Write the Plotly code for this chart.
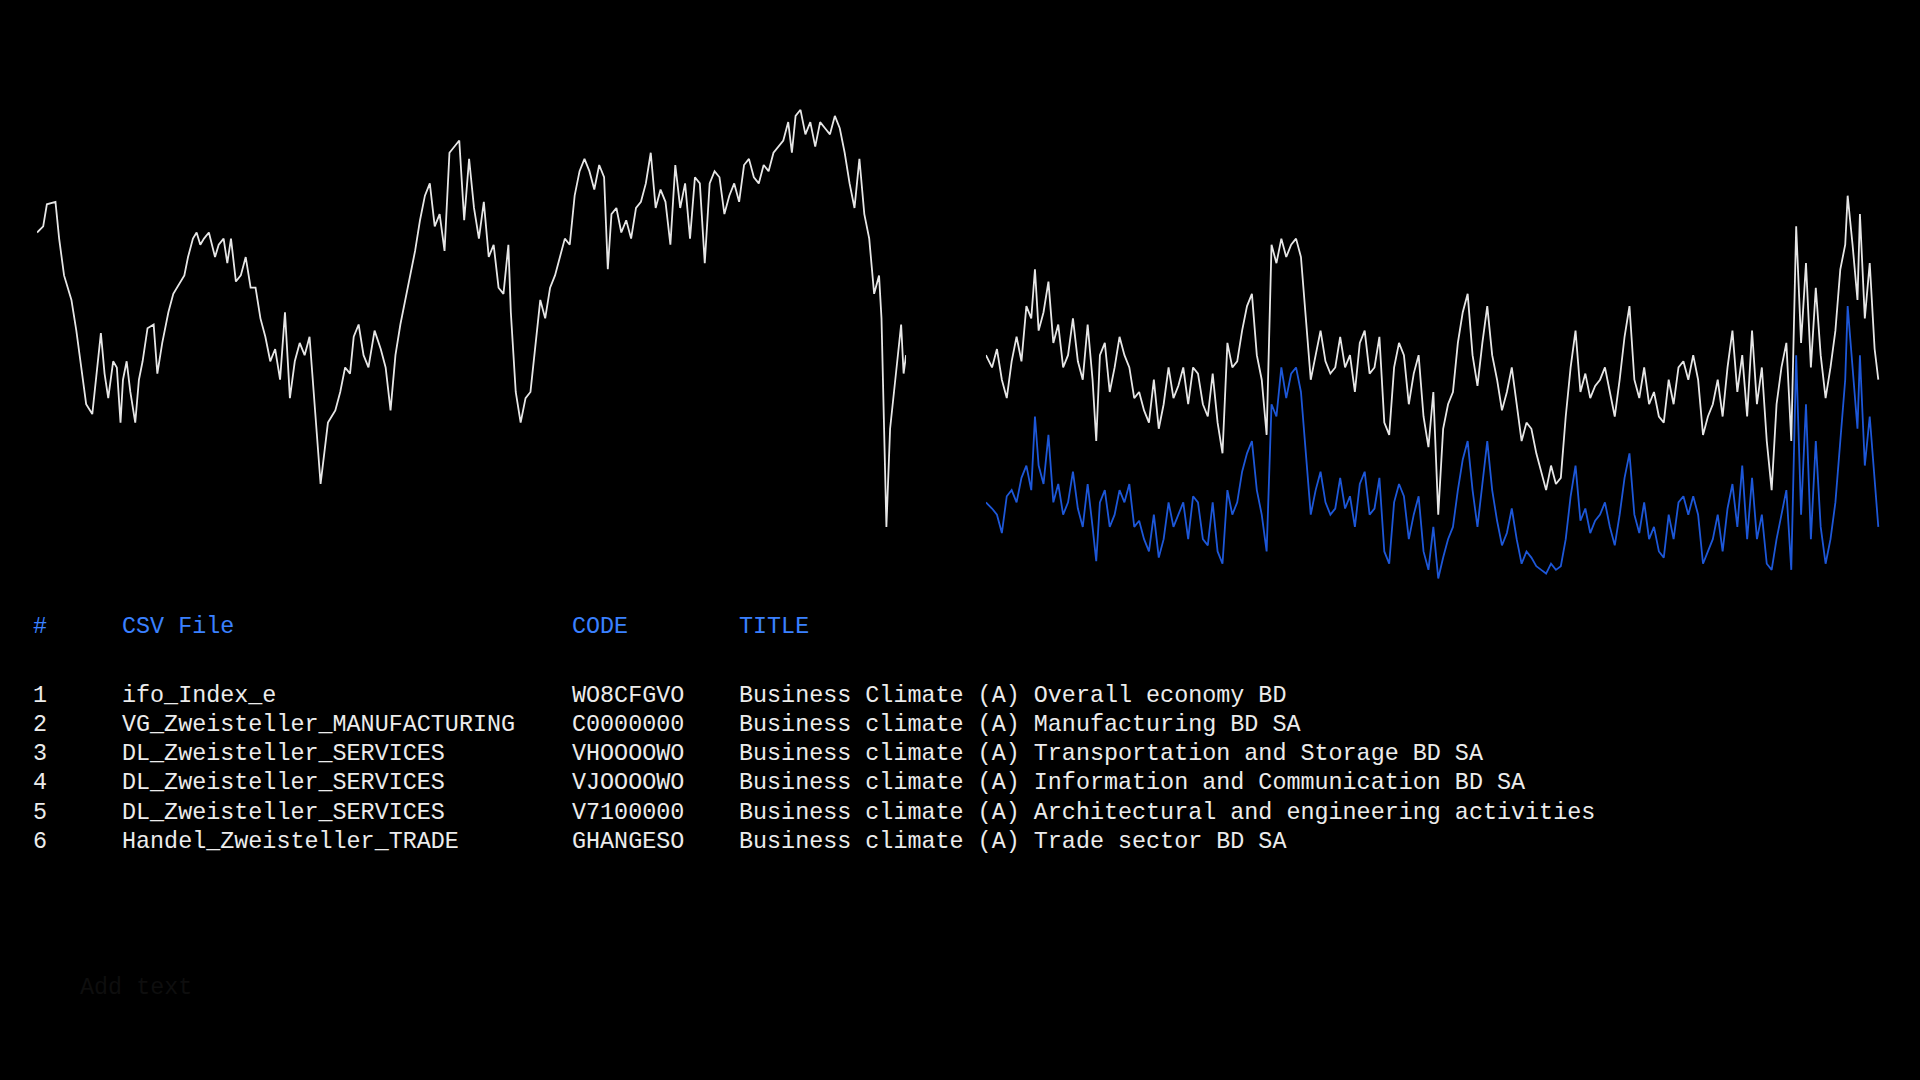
import plotly.graph_objects as go

# Left series (ifo index)
left_x = [30,35,38,45,48,52,58,62,66,70,75,78,82,85,88,92,95,98,100,103,106,110,113,116,120,125,128,132,137,141,144,150,153,157,160,163,166,170,175,178,182,185,188,192,196,200,204,208,212,216,220,224,228,232,236,240,244,248,252,255,258,261,264,267,270,273,277,281,285,288,292,296,300,305,310,314,318,322,326,330,334,338,342,346,350,354,358,362,366,370,374,378,382,386,390,394,398,402,406,410,414,416,420,424,428,432,436,440,444,448,452,456,460,464,468,472,476,480,484,488,492,495,498,502,506,510,514,518,522,526,530,534,538,542,546,550,554,558,562,566,570,574,578,582,586,590,594,598,602,606,610,614,618,622,626,630,634,638,642,645,648,652,656,660,664,668,672,676,680,684,688,692,696,700,704,708,712,716,718,720,722,725,728,731,734,736,738]
left_v = [190,185,167,165,195,225,245,270,300,330,338,310,272,305,325,295,300,345,310,295,320,345,310,295,268,265,305,280,255,240,235,225,210,195,190,200,195,190,210,200,195,215,195,230,225,210,235,235,260,275,295,285,310,255,325,295,280,290,275,315,350,395,370,345,340,335,320,300,305,275,265,290,300,270,285,300,335,290,265,245,225,205,180,160,150,185,175,205,125,120,115,180,130,170,195,165,210,200,235,240,200,255,320,345,325,320,280,245,260,235,225,210,195,200,160,140,130,140,155,135,145,220,175,170,190,180,195,170,165,150,125,170,155,165,200,135,170,150,195,145,150,215,150,140,145,175,160,150,165,135,130,145,150,135,140,125,120,115,100,125,95,90,110,100,120,100,105,110,95,105,125,150,170,130,175,195,240,225,260,350,430,350,320,295,265,305,290]

right_x = [805,810,814,818,822,826,830,834,838,842,845,848,852,856,860,864,868,872,876,880,884,888,892,895,898,902,906,910,914,918,922,926,930,934,938,942,946,950,954,958,962,966,970,974,978,982,986,990,994,998,1002,1006,1010,1014,1018,1022,1026,1030,1034,1038,1042,1046,1050,1054,1058,1062,1066,1070,1074,1078,1082,1086,1090,1094,1098,1102,1106,1110,1114,1118,1122,1126,1130,1134,1138,1142,1146,1150,1154,1158,1162,1166,1170,1174,1178,1182,1186,1190,1194,1198,1202,1206,1210,1214,1218,1222,1226,1230,1234,1238,1242,1246,1250,1254,1258,1262,1266,1270,1274,1278,1282,1286,1290,1294,1298,1302,1306,1310,1314,1318,1322,1326,1330,1334,1338,1342,1346,1350,1354,1358,1362,1366,1370,1374,1378,1382,1386,1390,1394,1398,1402,1406,1410,1414,1418,1422,1426,1430,1434,1438,1442,1446,1450,1454,1458,1462,1466,1470,1474,1478,1482,1486,1490,1494,1498,1502,1506,1508,1512,1516,1518,1522,1526,1530,1533,1536]
white_v = [290,300,285,310,325,295,275,295,250,260,220,270,255,230,280,265,300,290,260,295,310,265,310,360,290,280,320,300,275,290,300,325,320,335,345,310,350,330,300,325,315,300,330,300,305,330,340,305,345,370,280,300,295,270,250,240,290,310,355,200,215,195,210,200,195,210,260,310,290,270,295,305,300,275,300,290,320,280,270,305,300,275,345,355,300,280,290,330,305,290,340,365,320,420,350,330,320,280,255,240,290,315,280,250,290,310,335,320,300,330,360,345,350,370,385,400,380,395,390,340,300,270,320,305,325,315,310,300,320,340,310,275,250,310,325,300,330,320,340,345,310,330,300,295,310,290,310,355,340,330,310,340,300,270,320,290,340,270,330,300,360,400,330,300,280,360,185,280,215,300,235,290,325,300,270,220,200,160,200,245,175,260,215,285,310,230]
blue_v = [410,415,420,435,405,400,410,390,380,400,340,380,395,355,410,395,420,410,385,415,430,395,430,458,410,400,430,420,400,410,395,430,425,440,450,420,455,440,410,430,420,410,440,405,410,440,445,410,450,460,400,420,410,385,370,360,400,420,450,330,340,300,325,305,300,320,370,420,400,385,410,420,415,390,415,405,430,395,385,420,415,390,450,460,410,395,405,440,420,405,450,465,430,472,455,440,430,400,375,360,400,430,395,360,400,425,445,435,415,440,460,450,455,462,465,468,460,465,462,440,405,380,425,415,435,425,420,410,430,445,420,390,370,420,435,410,440,430,450,455,420,440,410,405,420,405,420,460,450,440,420,450,415,395,430,380,440,390,440,420,460,465,440,420,400,465,290,420,330,440,360,430,460,440,410,360,310,250,300,350,290,380,340,395,430]
n = min(len(right_x), len(white_v), len(blue_v))

headers = ["#", "CSV File", "CODE", "TITLE"]
row_num = ["1", "2", "3", "4", "5", "6"]
csv_files = ["ifo_Index_e", "VG_Zweisteller_MANUFACTURING", "DL_Zweisteller_SERVICES",
             "DL_Zweisteller_SERVICES", "DL_Zweisteller_SERVICES", "Handel_Zweisteller_TRADE"]
codes = ["WO8CFGVO", "C0000000", "VHOOOOWO", "VJOOOOWO", "V7100000", "GHANGESO"]
titles = ["Business Climate (A) Overall economy BD",
          "Business climate (A) Manufacturing BD SA",
          "Business climate (A) Transportation and Storage BD SA",
          "Business climate (A) Information and Communication BD SA",
          "Business climate (A) Architectural and engineering activities",
          "Business climate (A) Trade sector BD SA"]

fig = go.Figure()
fig.add_trace(go.Scatter(x=left_x, y=left_v, mode="lines", line=dict(color="#e6e6e6", width=1.8),
                         xaxis="x", yaxis="y", hoverinfo="skip"))
fig.add_trace(go.Scatter(x=right_x[:n], y=blue_v[:n], mode="lines", line=dict(color="#1d57d8", width=1.8),
                         xaxis="x2", yaxis="y", hoverinfo="skip"))
fig.add_trace(go.Scatter(x=right_x[:n], y=white_v[:n], mode="lines", line=dict(color="#e6e6e6", width=1.8),
                         xaxis="x2", yaxis="y", hoverinfo="skip"))

ax = dict(visible=False, showgrid=False, zeroline=False)
fig.update_layout(
    width=1920, height=1080, margin=dict(l=0, r=0, t=0, b=0),
    paper_bgcolor="#000000", plot_bgcolor="#000000", showlegend=False,
    xaxis=dict(domain=[0.0193, 0.4719], range=[30, 738], **ax),
    xaxis2=dict(domain=[0.5135, 0.9802], range=[805, 1536], **ax),
    yaxis=dict(domain=[0.461, 0.904], range=[475, 85], **ax),
)

font = "Liberation Mono, DejaVu Sans Mono, monospace"
col_x = [31, 120, 570, 737]
def put(txt, x, y, color):
    fig.add_annotation(text=txt, x=x / 1920, y=1 - y / 1080, xref="paper", yref="paper",
                       xanchor="left", yanchor="middle", showarrow=False,
                       font=dict(family=font, size=23.4, color=color))

for h, cx in zip(headers, col_x):
    put(h, cx, 627, "#3a80ff")
row_y = [696, 725, 754, 783, 813, 842]
for i, ry in enumerate(row_y):
    put(row_num[i], col_x[0], ry, "#ececec")
    put(csv_files[i], col_x[1], ry, "#ececec")
    put(codes[i], col_x[2], ry, "#ececec")
    put(titles[i], col_x[3], ry, "#ececec")

put("Add text", 78, 988, "#0e0e0e")

fig.write_html("out.html", config={"displayModeBar": False},
               post_script="document.body.style.margin='0';document.body.style.background='#000';")
